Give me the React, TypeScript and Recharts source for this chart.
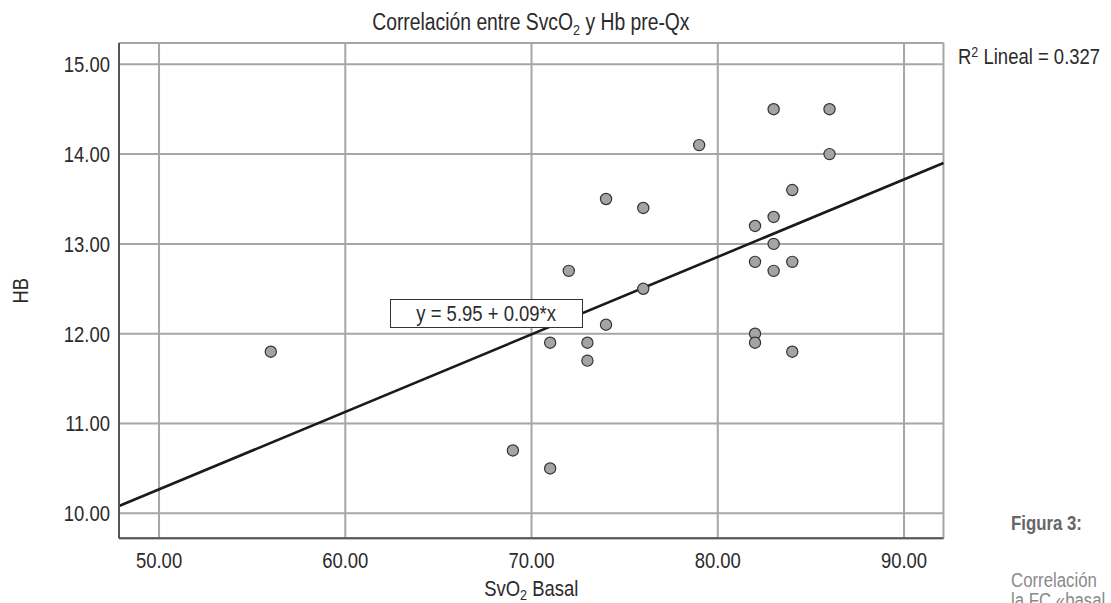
import { ScatterChart, Scatter, XAxis, YAxis, CartesianGrid, ReferenceLine } from 'recharts'

// SvO2 basal vs Hb pre-Qx
const svo2Basal = [56, 69, 71, 71, 73, 73, 72, 74, 74, 76, 76, 79, 82, 82, 82, 82, 83, 83, 83, 83, 84, 84, 84, 86, 86]
const hbPreQx = [11.8, 10.7, 10.5, 11.9, 11.9, 11.7, 12.7, 12.1, 13.5, 13.4, 12.5, 14.1, 13.2, 12.8, 12.0, 11.9, 14.5, 13.3, 13.0, 12.7, 13.6, 12.8, 11.8, 14.5, 14.0]

const xTicks = [50, 60, 70, 80, 90]
const yTicks = [10, 11, 12, 13, 14, 15]
const xDomain: [number, number] = [47.85, 92.12]
const yDomain: [number, number] = [9.722, 15.237]

// no narrow font installed: squeeze Liberation Sans horizontally
const FONT = "'Liberation Sans', Arial, sans-serif"
const NARROW = 0.84
const TEXT = '#2b2b2b'

const points = svo2Basal.map((x, i) => ({ x, y: hbPreQx[i] }))

// least squares fit (SPSS "R2 Lineal")
function linearFit(xs: number[], ys: number[]) {
  const n = xs.length
  const mx = xs.reduce((a, b) => a + b, 0) / n
  const my = ys.reduce((a, b) => a + b, 0) / n
  let sxy = 0
  let sxx = 0
  xs.forEach((x, i) => {
    sxy += (x - mx) * (ys[i] - my)
    sxx += (x - mx) * (x - mx)
  })
  const slope = sxy / sxx
  return { slope, intercept: my - slope * mx }
}

const fit = linearFit(svo2Basal, hbPreQx)
const fitSegment = xDomain.map((x) => ({ x, y: fit.intercept + fit.slope * x }))

function Dot(props: any) {
  return <circle cx={props.cx} cy={props.cy} r={5.6} fill="#a4a4a4" stroke="#333" strokeWidth={1.2} />
}

function NarrowText({ x, y, anchor, children, size = 22, dy = 0 }: any) {
  return (
    <g transform={`translate(${x},${y}) scale(${NARROW},1)`}>
      <text x={0} y={0} dy={dy} textAnchor={anchor} fill={TEXT} fontSize={size} fontFamily={FONT}>
        {children}
      </text>
    </g>
  )
}

function XTick({ x, y, payload }: any) {
  return <NarrowText x={x} y={y} anchor="middle" dy="0.71em">{payload.value.toFixed(2)}</NarrowText>
}

function YTick({ x, y, payload }: any) {
  return <NarrowText x={x} y={y} anchor="end" dy="0.355em">{payload.value.toFixed(2)}</NarrowText>
}

function XLabel({ viewBox }: any) {
  const cx = viewBox.x + viewBox.width / 2
  return (
    <NarrowText x={cx} y={viewBox.y + 57.5} anchor="middle">
      SvO<tspan dy={4} fontSize={15}>2</tspan>
      <tspan dy={-4}> Basal</tspan>
    </NarrowText>
  )
}

function YLabel({ viewBox }: any) {
  const cy = viewBox.y + viewBox.height / 2
  return (
    <g transform={`rotate(-90 28 ${cy})`}>
      <NarrowText x={28} y={cy} anchor="middle">HB</NarrowText>
    </g>
  )
}

const squeeze = (origin: string) => ({
  display: 'inline-block',
  transform: `scaleX(${NARROW})`,
  transformOrigin: origin,
  whiteSpace: 'nowrap' as const,
})

export default function App() {
  return (
    <div style={{ position: 'absolute', left: 0, top: 0, width: 1111, height: 603, overflow: 'hidden', background: '#fff', fontFamily: FONT, color: TEXT }}>
      <div style={{ position: 'absolute', left: 0, width: 1062, top: 9, textAlign: 'center', fontSize: 23, lineHeight: '26px' }}>
        <span style={squeeze('center')}>
          Correlación entre SvcO<sub style={{ fontSize: 15, verticalAlign: -5, lineHeight: 0 }}>2</sub> y Hb pre-Qx
        </span>
      </div>
      <ScatterChart width={1111} height={603} margin={{ top: 43, right: 167.5, bottom: 34.7, left: 0 }}>
        <CartesianGrid stroke="#a6a6a6" strokeWidth={2} />
        <XAxis
          type="number"
          dataKey="x"
          domain={xDomain}
          ticks={xTicks}
          allowDataOverflow
          height={30}
          tick={<XTick />}
          tickLine={false}
          tickSize={0}
          tickMargin={14}
          axisLine={{ stroke: '#555', strokeWidth: 2 }}
          label={{ content: <XLabel /> }}
        />
        <YAxis
          type="number"
          dataKey="y"
          domain={yDomain}
          ticks={yTicks}
          allowDataOverflow
          width={119}
          tick={<YTick />}
          tickLine={false}
          tickSize={0}
          tickMargin={9}
          axisLine={{ stroke: '#555', strokeWidth: 2 }}
          label={{ content: <YLabel /> }}
        />
        <ReferenceLine segment={fitSegment} stroke="#1a1a1a" strokeWidth={2.6} ifOverflow="visible" />
        <Scatter data={points} shape={<Dot />} isAnimationActive={false} />
      </ScatterChart>
      <div
        style={{
          position: 'absolute',
          left: 390,
          top: 299,
          width: 193,
          height: 29,
          boxSizing: 'border-box',
          border: '1.5px solid #333',
          background: '#fff',
          textAlign: 'center',
          fontSize: 22,
          lineHeight: '27px',
        }}
      >
        <span style={squeeze('center')}>y = 5.95 + 0.09*x</span>
      </div>
      <div style={{ position: 'absolute', left: 958, top: 44, fontSize: 22, lineHeight: '26px' }}>
        <span style={squeeze('left')}>
          R<sup style={{ fontSize: 15, verticalAlign: 7, lineHeight: 0 }}>2</sup> Lineal = 0.327
        </span>
      </div>
      <div style={{ position: 'absolute', left: 1011, top: 511, fontSize: 20, fontWeight: 'bold', color: '#666', lineHeight: '24px' }}>
        <span style={squeeze('left')}>Figura 3:</span>
      </div>
      <div style={{ position: 'absolute', left: 1011, top: 570, fontSize: 20, color: '#8a8a8a', lineHeight: '20px' }}>
        <span style={squeeze('left')}>Correlación</span>
        <br />
        <span style={squeeze('left')}>la FC «basal</span>
      </div>
    </div>
  )
}
